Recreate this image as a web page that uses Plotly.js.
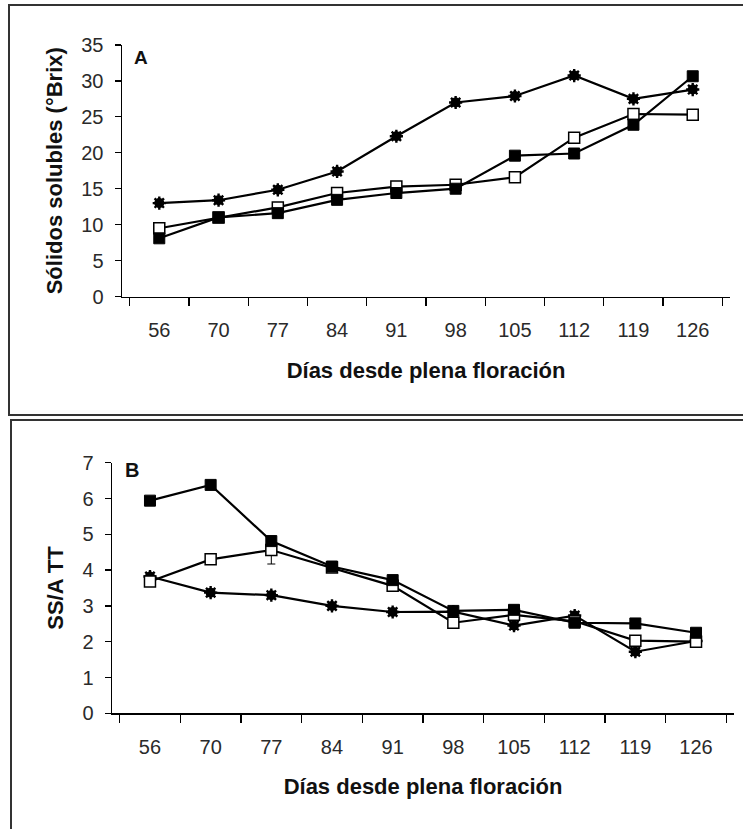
<!DOCTYPE html>
<html>
<head>
<meta charset="utf-8">
<script src="https://cdn.plot.ly/plotly-3.0.1.min.js"></script>
<style>
  html, body { margin: 0; padding: 0; background: #fff; }
  #chart { width: 743px; height: 829px; }
</style>
</head>
<body>
<div id="chart"></div>
<script>
// Días desde plena floración
const dias = ['56', '70', '77', '84', '91', '98', '105', '112', '119', '126'];

// Panel A: sólidos solubles (°Brix)
const brixAsterisco = [13.0, 13.4, 14.85, 17.4, 22.3, 27.0, 27.9, 30.75, 27.5, 28.8];
const brixCuadroLleno = [8.1, 11.0, 11.6, 13.45, 14.4, 15.0, 19.6, 19.9, 23.9, 30.65];
const brixCuadroAbierto = [9.5, 11.0, 12.4, 14.4, 15.3, 15.55, 16.6, 22.1, 25.4, 25.3];

// Panel B: relación SS/ATT
const ratioAsterisco = [3.82, 3.37, 3.30, 3.0, 2.83, 2.84, 2.45, 2.73, 1.72, 2.02];
const ratioCuadroLleno = [5.94, 6.38, 4.81, 4.10, 3.72, 2.86, 2.89, 2.53, 2.51, 2.25];
const ratioCuadroAbierto = [3.68, 4.30, 4.56, 4.07, 3.56, 2.53, 2.75, 2.57, 2.03, 2.0];
const ratioCuadroAbiertoError = [0, 0, 0.39, 0, 0, 0, 0, 0, 0, 0];

const FONT = 'Liberation Sans, Arial, sans-serif';
const W = 743, H = 829;
const px = x => x / W;
const py = y => 1 - y / H;

function seriesTraces(xa, ya, star, filled, open, openErr) {
  const line = { color: '#000', width: 2.2 };
  const t = [];
  // asterisk series: line with solid core, then short spokes on top
  t.push({ x: dias, y: star, xaxis: xa, yaxis: ya, type: 'scatter', mode: 'lines+markers',
    line: line, marker: { symbol: 'circle', size: 10, color: '#000' }, hoverinfo: 'y' });
  t.push({ x: dias, y: star, xaxis: xa, yaxis: ya, type: 'scatter', mode: 'markers',
    marker: { symbol: 'asterisk-open', size: 11, color: '#000', line: { color: '#000', width: 2.4 } }, hoverinfo: 'skip' });
  const openTrace = { x: dias, y: open, xaxis: xa, yaxis: ya, type: 'scatter', mode: 'lines+markers',
    line: line, marker: { symbol: 'square', size: 11, color: '#fff', line: { color: '#000', width: 1.5 } }, hoverinfo: 'y' };
  if (openErr) {
    openTrace.error_y = { type: 'data', array: openErr, visible: true, color: '#000', thickness: 1, width: 4 };
  }
  t.push(openTrace);
  t.push({ x: dias, y: filled, xaxis: xa, yaxis: ya, type: 'scatter', mode: 'lines+markers',
    line: line, marker: { symbol: 'square', size: 11, color: '#000', line: { color: '#000', width: 1 } }, hoverinfo: 'y' });
  return t;
}

const data = [].concat(
  seriesTraces('x', 'y', brixAsterisco, brixCuadroLleno, brixCuadroAbierto, null),
  seriesTraces('x2', 'y2', ratioAsterisco, ratioCuadroLleno, ratioCuadroAbierto, ratioCuadroAbiertoError)
);

const tickFont = { family: FONT, size: 20, color: '#2a2a2a' };
const titleFont = { family: FONT, size: 22, color: '#111', weight: 'bold' };

function xAxis(domain, anchor) {
  return {
    type: 'category', domain: domain, anchor: anchor,
    categoryorder: 'array', categoryarray: dias,
    showline: true, linecolor: '#000', linewidth: 1.5,
    showgrid: false, zeroline: false,
    ticks: 'outside', tickson: 'boundaries', ticklen: 8, tickwidth: 1.2, tickcolor: '#000',
    tickfont: tickFont, ticklabelstandoff: 15,
    title: { text: '<b>Días desde plena floración</b>', font: titleFont, standoff: 22 },
    fixedrange: true
  };
}

function yAxis(domain, anchor, range, dtick, title) {
  return {
    domain: domain, anchor: anchor, range: range, dtick: dtick, tick0: 0,
    showline: true, linecolor: '#000', linewidth: 1.5,
    showgrid: false, zeroline: false,
    ticks: 'outside', ticklen: 6, tickwidth: 1.2, tickcolor: '#000',
    tickfont: tickFont, ticklabelstandoff: 7,
    title: { text: '<b>' + title + '</b>', font: titleFont, standoff: 12 },
    fixedrange: true
  };
}

const layout = {
  width: W, height: H,
  margin: { l: 0, r: 0, t: 0, b: 0 },
  paper_bgcolor: '#fff', plot_bgcolor: 'rgba(0,0,0,0)',
  showlegend: false,
  font: { family: FONT, color: '#000' },
  xaxis: xAxis([px(122), px(730)], 'y'),
  yaxis: yAxis([py(296.5), py(45)], 'x', [0, 35], 5, 'Sólidos solubles (°Brix)'),
  xaxis2: xAxis([px(112), px(734)], 'y2'),
  yaxis2: yAxis([py(713.3), py(462.7)], 'x2', [0, 7], 1, 'SS/A TT'),
  annotations: [
    { text: '<b>A</b>', xref: 'paper', yref: 'paper', x: px(141), y: py(58),
      xanchor: 'center', yanchor: 'middle',
      showarrow: false, font: { family: FONT, size: 19, color: '#111' } },
    { text: '<b>B</b>', xref: 'paper', yref: 'paper', x: px(132), y: py(470),
      xanchor: 'center', yanchor: 'middle',
      showarrow: false, font: { family: FONT, size: 20, color: '#111' } }
  ],
  shapes: [
    { type: 'rect', xref: 'paper', yref: 'paper', x0: px(9), x1: 1.02, y0: py(415), y1: py(5),
      line: { color: '#333', width: 2 }, layer: 'below' },
    { type: 'rect', xref: 'paper', yref: 'paper', x0: px(11), x1: 1.02, y0: -0.02, y1: py(420),
      line: { color: '#333', width: 2 }, layer: 'below' }
  ]
};

Plotly.newPlot('chart', data, layout, { staticPlot: true, displayModeBar: false });
</script>
</body>
</html>
